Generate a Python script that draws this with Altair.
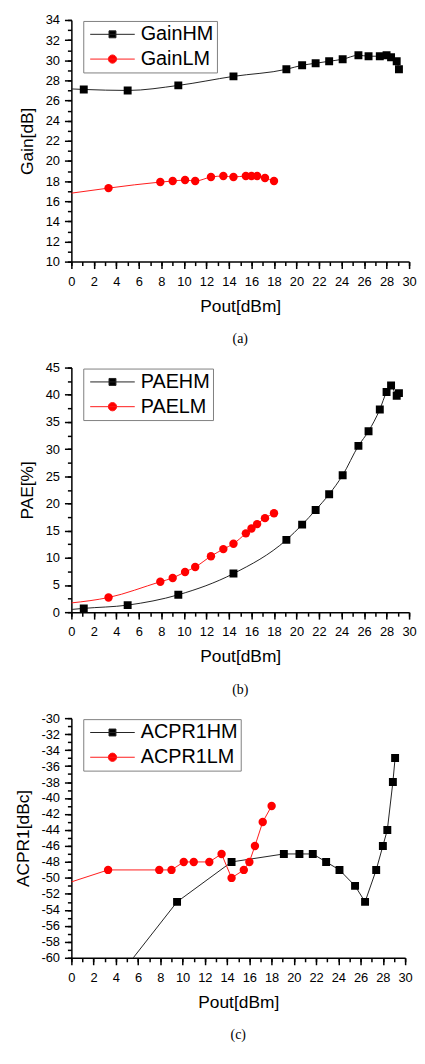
import altair as alt
import pandas as pd

# output power sweep (dBm) of the high-power (HM) and low-power (LM) modes
pout_hm = [1.1, 5.0, 9.5, 14.4, 19.1, 20.5, 21.7, 22.9, 24.1, 25.5, 26.4, 27.4, 28.0, 28.4, 28.9, 29.1]
pout_lm = [3.3, 7.9, 9.0, 10.1, 11.0, 12.4, 13.5, 14.4, 15.5, 16.0, 16.5, 17.2, 18.0]

gain_hm = [27.1, 27.0, 27.5, 28.4, 29.1, 29.5, 29.7, 29.9, 30.1, 30.5, 30.4, 30.4, 30.5, 30.3, 29.9, 29.1]
gain_lm = [17.3, 17.9, 18.0, 18.1, 18.0, 18.4, 18.5, 18.4, 18.5, 18.5, 18.5, 18.3, 18.0]

pae_hm = [0.7, 1.3, 3.2, 7.1, 13.3, 16.1, 18.8, 21.7, 25.2, 30.6, 33.3, 37.3, 40.5, 41.7, 39.8, 40.3]
pae_lm = [2.7, 5.6, 6.3, 7.4, 8.3, 10.3, 11.6, 12.6, 14.5, 15.4, 16.2, 17.3, 18.2]

acpr_hm = [-63, -61, -53, -48, -47, -47, -47, -48, -49, -51, -53, -49, -46, -44, -38, -35]
acpr_lm = [-49, -49, -49, -48, -48, -48, -47, -50, -49, -48, -46, -43, -41]

# value where each drawn curve meets the Pout = 0 axis (None: curve starts at first sample)
gain_start = [27.15, 16.8]
pae_start = [0.5, 1.7]
acpr_start = [None, -50.5]

x_major = list(range(0, 31, 2))
x_minor = list(range(0, 31))

FONT = "Liberation Sans"
SERIF = "Liberation Serif"
HM_LINE = "#222222"
LM_LINE = "#ff1a1a"
SQUARE_LINE = "M-2.25,0L2.25,0M-0.35,-0.35L0.35,-0.35L0.35,0.35L-0.35,0.35Z"
CIRCLE_LINE = "M-2.25,0L2.25,0M0.42,0A0.42,0.42,0,1,1,-0.42,0A0.42,0.42,0,1,1,0.42,0Z"


def major_axis(orient, values, title):
    return alt.Axis(
        orient=orient, values=values, title=title, grid=False,
        domain=True, domainColor="black", domainWidth=1.5,
        ticks=True, tickColor="black", tickWidth=1.5, tickSize=7,
        labels=True, labelFont=FONT, labelFontSize=13, labelColor="black",
        labelPadding=7 if orient == "bottom" else 5,
        labelOverlap=False, labelFlush=False, labelExpr="toString(datum.value)",
        titleFont=FONT, titleFontSize=17.5, titleFontWeight="normal", titleColor="black",
        titlePadding=9,
    )


def minor_axis(orient, values):
    return alt.Axis(
        orient=orient, values=values, title=None, grid=False, domain=False,
        labels=False, ticks=True, tickColor="black", tickWidth=1.5, tickSize=4,
    )


def curve(xs, ys, start):
    if start is None:
        return pd.DataFrame({"pout": xs, "val": ys})
    return pd.DataFrame({"pout": [0.0] + xs, "val": [start] + ys})


def panel(names, hm, lm, starts, ydom, ymaj, ymin, ytitle, width, height, caption, interp):
    hm_name, lm_name = names
    dom = [hm_name, lm_name]
    pts = pd.DataFrame({"series": [hm_name] * len(pout_hm) + [lm_name] * len(pout_lm),
                        "pout": pout_hm + pout_lm, "val": hm + lm})

    xsc = alt.Scale(domain=[0, 30], nice=False, zero=False)
    ysc = alt.Scale(domain=ydom, nice=False, zero=False)

    line_hm = alt.Chart(curve(pout_hm, hm, starts[0])).mark_line(
        strokeWidth=1, interpolate=interp, clip=True, color=HM_LINE
    ).encode(
        x=alt.X("pout:Q", scale=xsc, axis=major_axis("bottom", x_major, "Pout[dBm]")),
        y=alt.Y("val:Q", scale=ysc, axis=major_axis("left", ymaj, ytitle)),
    )
    line_lm = alt.Chart(curve(pout_lm, lm, starts[1])).mark_line(
        strokeWidth=1, interpolate=interp, clip=True, color=LM_LINE
    ).encode(
        x=alt.X("pout:Q", scale=xsc, axis=None),
        y=alt.Y("val:Q", scale=ysc, axis=None),
    )
    sq = alt.Chart(pd.DataFrame({"pout": pout_hm, "val": hm})).mark_point(
        shape="square", filled=True, color="black", size=64, opacity=1, clip=True
    ).encode(
        x=alt.X("pout:Q", scale=xsc, axis=minor_axis("bottom", x_minor)),
        y=alt.Y("val:Q", scale=ysc, axis=minor_axis("left", ymin)),
    )
    ci = alt.Chart(pd.DataFrame({"pout": pout_lm, "val": lm})).mark_point(
        shape="circle", filled=True, color="#ff0000", size=72, opacity=1, clip=True
    ).encode(
        x=alt.X("pout:Q", scale=xsc, axis=None),
        y=alt.Y("val:Q", scale=ysc, axis=None),
    )
    # legend-only layer: no rows survive the filter, the legend is built from the scale domains
    key = alt.Chart(pts).transform_filter("false").mark_point(
        filled=True, size=64, opacity=1, strokeWidth=1
    ).encode(
        x=alt.X("pout:Q", scale=xsc, axis=None),
        y=alt.Y("val:Q", scale=ysc, axis=None),
        color=alt.Color("series:N", scale=alt.Scale(domain=dom, range=["#000000", "#ff0000"]),
                        legend=alt.Legend(title=None)),
        stroke=alt.Stroke("series:N", scale=alt.Scale(domain=dom, range=[HM_LINE, LM_LINE]),
                          legend=alt.Legend(title=None)),
        shape=alt.Shape("series:N", scale=alt.Scale(domain=dom, range=[SQUARE_LINE, CIRCLE_LINE]),
                        legend=alt.Legend(title=None)),
    )
    return alt.layer(line_hm, line_lm, sq, ci, key).resolve_axis(
        x="independent", y="independent"
    ).properties(
        width=width, height=height,
        title=alt.TitleParams(text=caption, orient="bottom", anchor="middle", font=SERIF,
                              fontSize=14, fontWeight="normal", color="black", offset=18),
    )


pa = panel(["GainHM", "GainLM"], gain_hm, gain_lm, gain_start, [10, 34],
           list(range(10, 35, 2)), list(range(10, 35)), "Gain[dB]", 341, 244, "(a)", "monotone")
pb = panel(["PAEHM", "PAELM"], pae_hm, pae_lm, pae_start, [0, 45],
           list(range(0, 46, 5)), [i * 2.5 for i in range(19)], "PAE[%]", 341, 247, "(b)", "monotone")
pc = panel(["ACPR1HM", "ACPR1LM"], acpr_hm, acpr_lm, acpr_start, [-60, -30],
           list(range(-60, -29, 2)), list(range(-60, -29)), "ACPR1[dBc]", 337, 242, "(c)", "linear")

chart = alt.vconcat(pa, pb, pc, spacing=14).resolve_scale(
    color="independent", shape="independent", stroke="independent"
).configure_view(stroke="transparent").configure_legend(
    orient="none", legendX=12, legendY=1, direction="vertical",
    symbolSize=400, symbolStrokeWidth=1, symbolOffset=16, labelOffset=18,
    padding=3, rowPadding=4, labelFont=FONT, labelFontSize=20, labelColor="black",
    strokeColor="#808080", fillColor="white", labelLimit=300,
).properties(
    padding={"left": 5, "top": 0, "right": 0, "bottom": 0}
)

chart.save("out.html", embed_options={"renderer": "svg", "actions": False})
